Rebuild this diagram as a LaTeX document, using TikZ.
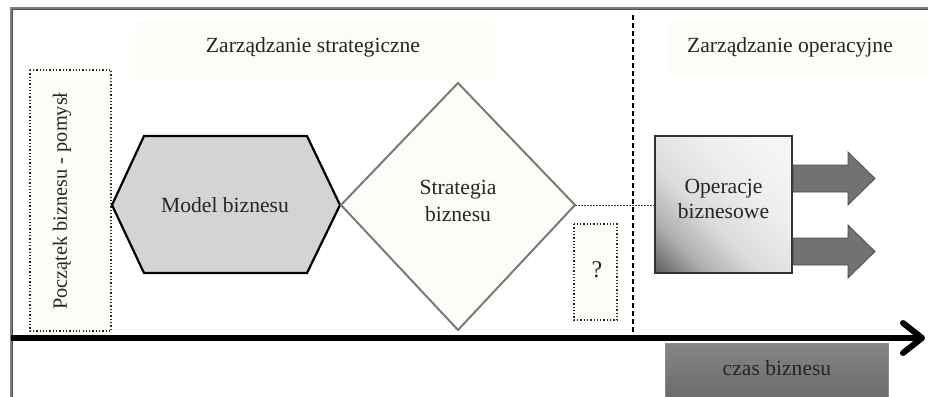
\documentclass[tikz,border=0pt]{standalone}
\usepackage{fontspec}
\setmainfont{Liberation Serif}
\usetikzlibrary{arrows.meta}

\definecolor{txt}{HTML}{252525}
\definecolor{cream}{HTML}{FDFDF8}
\definecolor{hexfill}{HTML}{D4D4D2}
\definecolor{diamedge}{HTML}{7A7A7A}
\definecolor{arrowfill}{HTML}{727270}
\definecolor{arrowedge}{HTML}{4C4C4C}
\definecolor{framecol}{HTML}{7E7E7E}

% diagonal light-to-dark fill of the operations box
\pgfdeclareverticalshading{opsshade}{100bp}{%
  color(0bp)=(black!64); color(15bp)=(black!62); color(28bp)=(black!32);
  color(42bp)=(black!14); color(60bp)=(black!7); color(85bp)=(black!3); color(100bp)=(black!3)}

\tikzset{
  lbl/.style={text=txt, font=\fontsize{21.6}{27}\selectfont, align=center, inner sep=0pt},
  headbox/.style={fill=cream, draw=none},
  dotbox/.style={draw=black!85, dotted, line width=1.3pt, fill=cream},
  blockarrow/.style={fill=arrowfill, draw=arrowedge, line width=0.8pt, line join=miter},
}

\begin{document}
\begin{tikzpicture}[x=1pt, y=-1pt]
  \useasboundingbox (0,0) rectangle (928,396);
  \fill[white] (0,0) rectangle (928,396);

  % outer frame (open at right and bottom)
  \draw[framecol, line width=2.4pt] (11,400) -- (11,8.5) -- (932,8.5);
  \draw[black!70, line width=0.6pt] (12,400) -- (12,9.5) -- (932,9.5);

  % section headings
  \fill[headbox] (135,22) rectangle (495,80);
  \node[lbl] (hstrat) at (313,47) {Zarządzanie strategiczne};
  \fill[headbox] (668,22) rectangle (928,74);
  \node[lbl] (hoper) at (790,47) {Zarządzanie operacyjne};

  % boundary between strategic and operational parts
  \draw[black, line width=1.3pt, dash pattern=on 5pt off 3pt] (633,15) -- (633,338);

  % start of business
  \draw[dotbox] (30,70) rectangle (111,331);
  \node[lbl, rotate=90, font=\fontsize{20.3}{24}\selectfont] (start) at (62,201) {Początek biznesu - pomysł};

  % business model hexagon
  \draw[fill=hexfill, draw=black, line width=2.2pt, line join=miter]
    (112,205) -- (144,136) -- (307,136) -- (340,205) -- (307,273) -- (144,273) -- cycle;
  \node[lbl] (model) at (225,205) {Model biznesu};

  % business strategy diamond
  \draw[fill=cream, draw=diamedge, line width=2pt, line join=miter]
    (341,205) -- (458,83) -- (575,205) -- (458,330) -- cycle;
  \coordinate (diamR) at (575,205);
  \node[lbl] (strategy) at (458,201) {Strategia\\biznesu};

  % unknown element
  \draw[dotbox] (574,224) rectangle (617,320);
  \node[lbl, font=\fontsize{24}{28}\selectfont] (unknown) at (597,270) {?};

  % business operations
  \node[draw=black!80, line width=1.2pt, minimum width=137pt, minimum height=137pt,
        shading=opsshade, shading angle=-45, inner sep=0pt] (ops) at (723.5,204.5) {};
  \node[lbl, font=\fontsize{21.6}{25}\selectfont] (opstext) at (723.5,199) {Operacje\\biznesowe};

  % link from strategy to operations
  \draw[black!75, line width=0.7pt, dash pattern=on 2pt off 1pt] (diamR) -- (ops.west |- diamR);

  % output arrows
  \draw[blockarrow] (793,165) -- (848,165) -- (848,152) -- (875,178.5) -- (848,205) -- (848,192) -- (793,192) -- cycle;
  \draw[blockarrow] (793,238) -- (848,238) -- (848,225) -- (875,251.5) -- (848,278) -- (848,265) -- (793,265) -- cycle;

  % business time axis
  \coordinate (axisL) at (11,338);
  \coordinate (axisR) at (922,338);
  \draw[black, line width=6pt] (axisL) -- (917,338);
  \draw[black, line width=6pt, line cap=round, line join=round] (903,323) -- (axisR) -- (903,353);

  % business time label
  \draw[draw=black!45, line width=1pt, top color=black!48, bottom color=black!58]
    (665,343) rectangle (888,400);
  \node[lbl] (time) at (777,368) {czas biznesu};
\end{tikzpicture}
\end{document}
